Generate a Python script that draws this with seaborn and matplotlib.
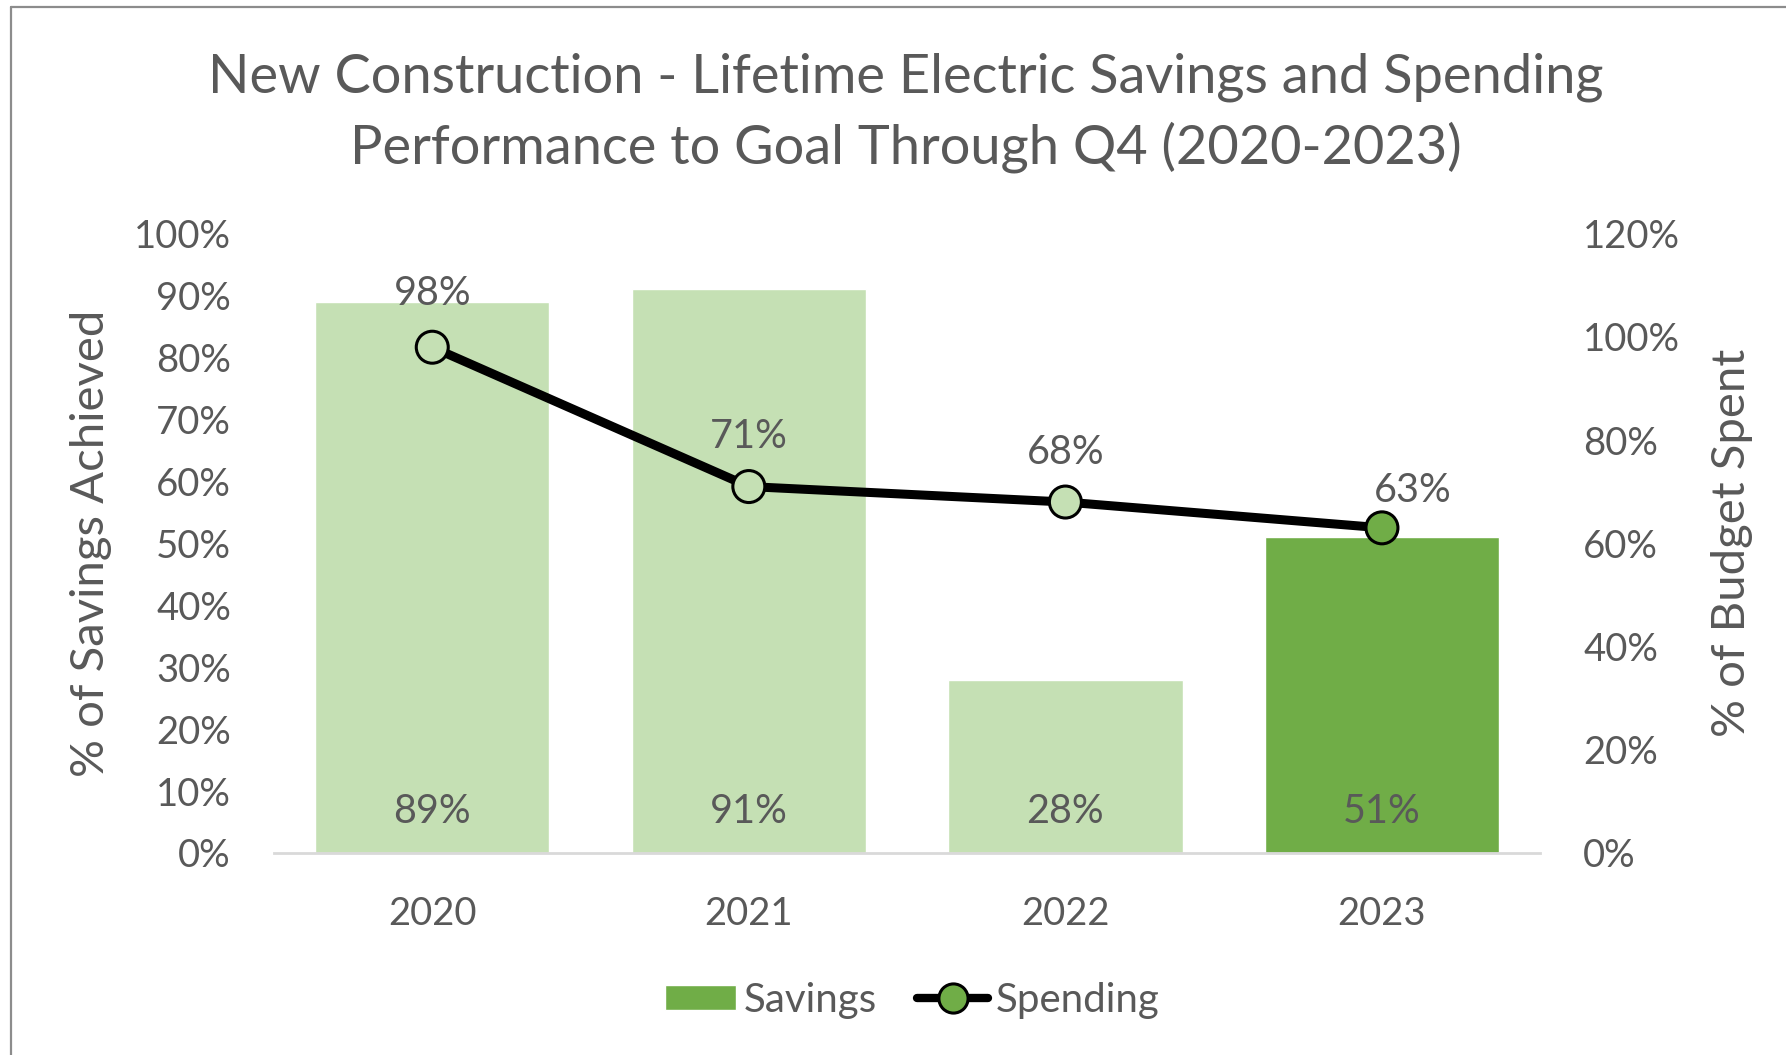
import seaborn as sns
import matplotlib.pyplot as plt
import pandas as pd
from matplotlib.patches import Patch
from matplotlib.lines import Line2D

# -------------------------
# Data
# -------------------------

years = ["2020", "2021", "2022", "2023"]
savings = [0.89, 0.91, 0.28, 0.51]   # % of savings achieved (left axis)
spending = [0.98, 0.71, 0.68, 0.63]  # % of budget spent (right axis)

left_ticks = [0, 0.1, 0.2, 0.3, 0.4, 0.5, 0.6, 0.7, 0.8, 0.9, 1.0]
right_ticks = [0, 0.2, 0.4, 0.6, 0.8, 1.0, 1.2]

df = pd.DataFrame({"Year": years, "Savings": savings, "Spending": spending})
df["pos"] = range(len(df))

# -------------------------
# Styling
# -------------------------

sns.set_style("white")
plt.rcParams["font.family"] = ["Lato", "DejaVu Sans"]
TEXT = "#595959"
LIGHT = "#C5E0B4"
DARK = "#70AD47"
colors = [LIGHT, LIGHT, LIGHT, DARK]

fig = plt.figure(figsize=(17.86, 10.55), dpi=100)
ax = fig.add_axes([0.1534, 0.1915, 0.709, 0.587])

# bars
sns.barplot(data=df, x="Year", y="Savings", hue="Year", palette=colors,
            legend=False, width=0.74, saturation=1, ax=ax)
ax.set_xlim(-0.5, 3.5)
ax.set_ylim(0, 1.0)
ax.set_yticks(left_ticks)
ax.set_yticklabels([f"{t:.0%}" for t in left_ticks])
ax.tick_params(axis="y", length=0, pad=31, labelsize=27.5, labelcolor=TEXT)
ax.tick_params(axis="x", length=0, pad=31, labelsize=27.5, labelcolor=TEXT)
for s in ["top", "right", "left"]:
    ax.spines[s].set_visible(False)
ax.spines["bottom"].set_color("#D9D9D9")
ax.spines["bottom"].set_linewidth(2)
ax.set_xlabel("")
ax.set_ylabel("% of Savings Achieved", fontsize=34, color=TEXT)
ax.yaxis.set_label_coords(-0.128, 0.5)

for i, v in enumerate(savings):
    ax.annotate(f"{v:.0%}", xy=(i, 0), xytext=(0, 29.5), textcoords="offset points",
                ha="center", va="center", fontsize=28.5, color=TEXT)

# spending line on secondary axis
ax2 = ax.twinx()
sns.lineplot(data=df, x="pos", y="Spending", color="black", linewidth=6.5,
             ax=ax2, zorder=2)
sns.scatterplot(data=df, x="pos", y="Spending", hue="Year", palette=colors,
                s=530, edgecolor="black", linewidth=2.2, legend=False,
                ax=ax2, zorder=3)
ax2.set_ylim(0, 1.2)
ax2.set_xlim(-0.5, 3.5)
ax2.set_yticks(right_ticks)
ax2.set_yticklabels([f"{t:.0%}" for t in right_ticks])
ax2.tick_params(axis="y", length=0, pad=31, labelsize=27.5, labelcolor=TEXT)
for s in ["top", "right", "left", "bottom"]:
    ax2.spines[s].set_visible(False)
ax2.set_xlabel("")
ax2.set_ylabel("% of Budget Spent", fontsize=34, color=TEXT, rotation=90)
ax2.yaxis.set_label_coords(1.135, 0.5)

label_offsets = [(0, 39), (0, 36), (0, 36), (22, 27)]
for i, v in enumerate(spending):
    ax2.annotate(f"{v:.0%}", xy=(i, v), xytext=label_offsets[i],
                 textcoords="offset points", ha="center", va="center",
                 fontsize=28.5, color=TEXT)

# -------------------------
# Title, legend, frame
# -------------------------

fig.text(0.507, 0.893,
         "New Construction - Lifetime Electric Savings and Spending\n"
         "Performance to Goal Through Q4 (2020-2023)",
         ha="center", va="center", fontsize=39, color=TEXT, linespacing=1.46)

handles = [
    Patch(facecolor=DARK, label="Savings"),
    Line2D([0], [0], color="black", linewidth=6, marker="o", markersize=21,
           markerfacecolor=DARK, markeredgecolor="black", markeredgewidth=2.2,
           label="Spending"),
]
fig.legend(handles=handles, loc="center", bbox_to_anchor=(0.511, 0.052), ncol=2,
           frameon=False, fontsize=29, labelcolor=TEXT, handlelength=1.75,
           handleheight=0.55, handletextpad=0.2, columnspacing=1.0)

fig.add_artist(Line2D([11 / 1786, 11 / 1786], [0, 1 - 7 / 1055],
                      transform=fig.transFigure, color="#8C8C8C", linewidth=1.6))
fig.add_artist(Line2D([11 / 1786, 1], [1 - 7 / 1055, 1 - 7 / 1055],
                      transform=fig.transFigure, color="#8C8C8C", linewidth=1.6))

plt.savefig("out.png", dpi=100)
plt.close()
